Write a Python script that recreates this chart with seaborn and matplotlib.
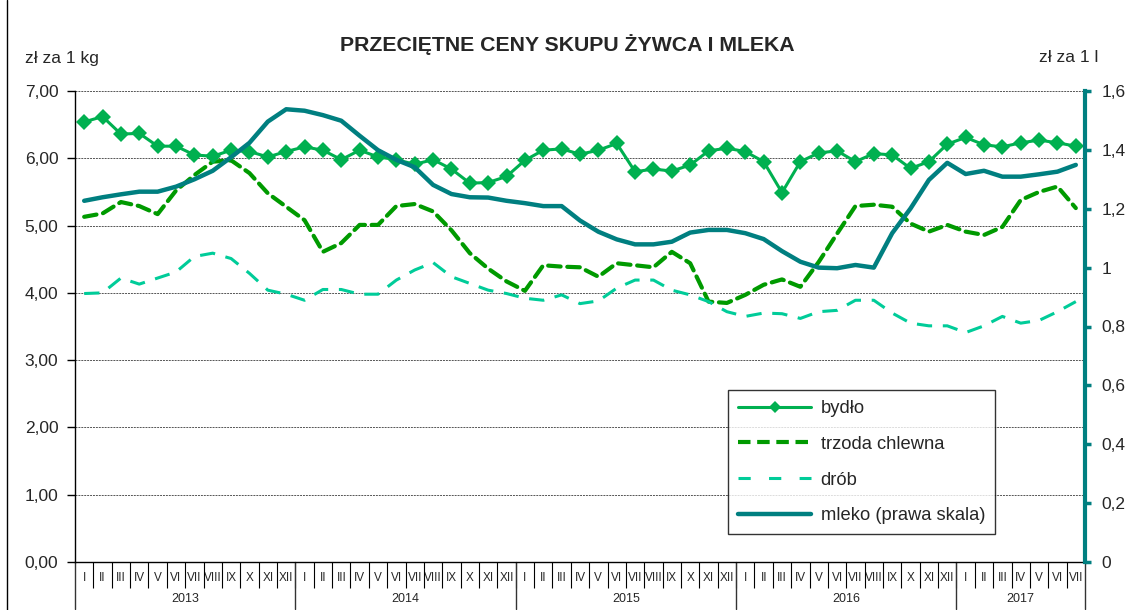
import pandas as pd
import matplotlib.pyplot as plt
import seaborn as sns
from matplotlib.lines import Line2D

# Dane (ceny miesięczne I 2013 - VII 2017)
MIESIACE = ["I", "II", "III", "IV", "V", "VI", "VII", "VIII", "IX", "X", "XI", "XII"]
LATA = ["2013", "2014", "2015", "2016", "2017"]
LICZBA_MIES = [12, 12, 12, 12, 7]

bydlo = [6.54, 6.62, 6.36, 6.37, 6.18, 6.18, 6.05, 6.03, 6.12, 6.10, 6.02, 6.10,
         6.17, 6.12, 5.98, 6.12, 6.02, 5.98, 5.91, 5.98, 5.84, 5.63, 5.64, 5.73,
         5.97, 6.12, 6.14, 6.06, 6.12, 6.22, 5.80, 5.84, 5.81, 5.90, 6.11, 6.15,
         6.10, 5.95, 5.49, 5.95, 6.08, 6.11, 5.95, 6.07, 6.05, 5.85, 5.95, 6.21,
         6.31, 6.20, 6.17, 6.23, 6.27, 6.23, 6.18]
trzoda = [5.13, 5.18, 5.35, 5.29, 5.17, 5.52, 5.75, 5.95, 5.97, 5.78, 5.48, 5.28,
          5.08, 4.61, 4.74, 5.01, 5.01, 5.29, 5.32, 5.21, 4.93, 4.59, 4.36, 4.17,
          4.03, 4.41, 4.39, 4.38, 4.24, 4.44, 4.41, 4.38, 4.61, 4.44, 3.87, 3.85,
          3.97, 4.12, 4.20, 4.09, 4.46, 4.88, 5.29, 5.31, 5.28, 5.03, 4.91, 5.01,
          4.91, 4.86, 4.98, 5.38, 5.50, 5.58, 5.26]
drob = [3.99, 4.00, 4.22, 4.13, 4.22, 4.31, 4.54, 4.59, 4.51, 4.29, 4.04, 3.98,
        3.89, 4.05, 4.05, 3.98, 3.98, 4.19, 4.34, 4.45, 4.24, 4.14, 4.04, 3.99,
        3.92, 3.89, 3.97, 3.84, 3.88, 4.07, 4.19, 4.19, 4.04, 3.97, 3.87, 3.72,
        3.65, 3.70, 3.69, 3.62, 3.72, 3.74, 3.89, 3.89, 3.70, 3.55, 3.51, 3.51,
        3.41, 3.51, 3.65, 3.55, 3.59, 3.72, 3.87]
mleko = [1.227, 1.239, 1.249, 1.258, 1.258, 1.275, 1.300, 1.329, 1.375, 1.424, 1.496, 1.538,
         1.533, 1.518, 1.499, 1.448, 1.399, 1.366, 1.341, 1.281, 1.250, 1.239, 1.238, 1.227,
         1.219, 1.209, 1.209, 1.160, 1.122, 1.096, 1.079, 1.079, 1.088, 1.119, 1.128, 1.128,
         1.117, 1.097, 1.056, 1.020, 1.000, 0.998, 1.009, 1.000, 1.117, 1.201, 1.298, 1.356,
         1.318, 1.329, 1.309, 1.309, 1.317, 1.326, 1.349]

ETYKIETY_L = ["0,00", "1,00", "2,00", "3,00", "4,00", "5,00", "6,00", "7,00"]
ETYKIETY_P = ["0", "0,2", "0,4", "0,6", "0,8", "1", "1,2", "1,4", "1,6"]

KOLOR_BYDLO = "#00B050"
KOLOR_TRZODA = "#009A00"
KOLOR_DROB = "#00CC99"
KOLOR_MLEKO = "#007F80"

sns.set_style("white")
plt.rcParams['font.family'] = ['Liberation Sans', 'DejaVu Sans']

etykiety_mies = []
for n in LICZBA_MIES:
    etykiety_mies += MIESIACE[:n]
n_mies = len(etykiety_mies)

df = pd.DataFrame({
    'nr': range(n_mies),
    'bydlo': bydlo,
    'trzoda': trzoda,
    'drob': drob,
    'mleko': mleko,
})

fig = plt.figure(figsize=(11.32, 6.10), dpi=100)
ax1 = fig.add_axes([75 / 1132, 1 - 562 / 610, 1010 / 1132, 471 / 610])

sns.lineplot(data=df, x='nr', y='trzoda', ax=ax1, color=KOLOR_TRZODA, lw=3.0,
             linestyle=(0, (3, 1.6)), dash_capstyle='round')
sns.lineplot(data=df, x='nr', y='drob', ax=ax1, color=KOLOR_DROB, lw=2.2,
             linestyle=(0, (5, 3.5)))
sns.lineplot(data=df, x='nr', y='bydlo', ax=ax1, color=KOLOR_BYDLO, lw=2.2,
             marker='D', markersize=8, markeredgewidth=0)

ax2 = ax1.twinx()
sns.lineplot(data=df, x='nr', y='mleko', ax=ax2, color=KOLOR_MLEKO, lw=3.2)

ax1.set_xlim(-0.5, n_mies - 0.5)
ax1.set_ylim(0, 7)
ax2.set_ylim(0, 1.6)

ax1.set_yticks(range(8))
ax1.set_yticklabels(ETYKIETY_L, fontsize=12.5)
ax2.set_yticks([i * 0.2 for i in range(9)])
ax2.set_yticklabels(ETYKIETY_P, fontsize=12.5)

ax1.grid(axis='y', color='#555555', linestyle=(0, (2, 1)), lw=0.7)
ax1.grid(axis='x', visible=False)
ax1.set_axisbelow(True)

ax1.set_xlabel('')
ax1.set_ylabel('')
ax2.set_ylabel('')

for a in (ax1, ax2):
    a.spines['top'].set_visible(False)
ax1.spines['right'].set_visible(False)
ax2.spines['left'].set_visible(False)
ax2.spines['bottom'].set_visible(False)
ax1.spines['left'].set_color('black')
ax1.spines['left'].set_linewidth(1.0)
ax1.spines['bottom'].set_color('black')
ax1.spines['bottom'].set_linewidth(1.0)
ax2.spines['right'].set_color(KOLOR_MLEKO)
ax2.spines['right'].set_linewidth(3.0)

ax1.tick_params(axis='y', left=True, direction='out', length=6, width=1, color='black', pad=6)
ax2.tick_params(axis='y', right=True, direction='out', length=4, width=2.5,
                color=KOLOR_MLEKO, pad=8)

# oś X: miesiące w kratkach, lata pod spodem
ax1.set_xticks(range(n_mies))
ax1.set_xticklabels(etykiety_mies, fontsize=8.5)
ax1.set_xticks([i - 0.5 for i in range(1, n_mies)], minor=True)
ax1.tick_params(axis='x', which='major', length=0, pad=7)
ax1.tick_params(axis='x', which='minor', bottom=True, direction='out', length=19,
                width=0.8, color='black')

tr = ax1.get_xaxis_transform()
start = 0
granice = [-0.5]
for rok, n in zip(LATA, LICZBA_MIES):
    ax1.text(start + n / 2 - 0.5, -0.078, rok, transform=tr, ha='center', va='center',
             fontsize=9)
    start += n
    granice.append(start - 0.5)
for g in granice:
    ax1.plot([g, g], [0, -0.1], transform=tr, color='#333333', lw=1.0, clip_on=False)

fig.text(567 / 1132, 1 - 45 / 610, 'PRZECIĘTNE CENY SKUPU ŻYWCA I MLEKA',
         ha='center', va='center', fontsize=15.3, fontweight='bold')
fig.text(25 / 1132, 1 - 58 / 610, 'zł za 1 kg', ha='left', va='center', fontsize=12.5)
fig.text(1098 / 1132, 1 - 58 / 610, 'zł za 1 l', ha='right', va='center', fontsize=12.5)

# ramka lewa
fig.add_artist(Line2D([7 / 1132, 7 / 1132], [0, 1], color='black', lw=1.0))

uchwyty = [
    Line2D([], [], color=KOLOR_BYDLO, lw=2.2, marker='D', markersize=6, markeredgewidth=0),
    Line2D([], [], color=KOLOR_TRZODA, lw=3.0, linestyle=(0, (3, 1.6))),
    Line2D([], [], color=KOLOR_DROB, lw=2.2, linestyle=(0, (4, 6))),
    Line2D([], [], color=KOLOR_MLEKO, lw=3.2),
]
etykiety = ['bydło', 'trzoda chlewna', 'drób', 'mleko (prawa skala)']
if ax1.get_legend() is not None:
    ax1.get_legend().remove()
leg = ax2.legend(uchwyty, etykiety, loc='upper left', bbox_to_anchor=(0.6465, 0.365),
                 frameon=True, fancybox=False, edgecolor='black', fontsize=13.2,
                 handlelength=4.0, labelspacing=1.02, borderpad=0.55, handletextpad=0.5,
                 borderaxespad=0)
leg.get_frame().set_linewidth(1.0)

plt.savefig('out.png', dpi=100)
plt.close()
